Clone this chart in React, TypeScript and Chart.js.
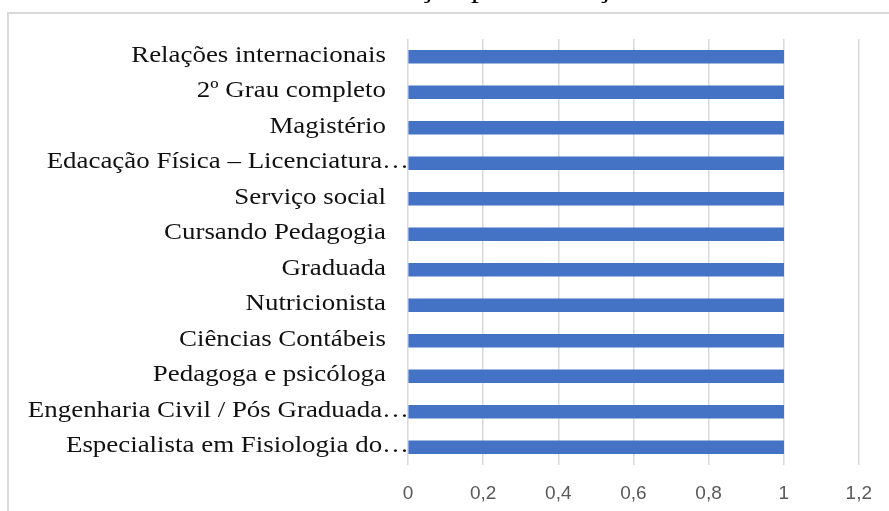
import { useEffect, useRef } from "react";
import { Chart, registerables } from "chart.js";

Chart.register(...registerables);

const title = "Distribuição por formação";
const categories = [
  "Relações internacionais",
  "2º Grau completo",
  "Magistério",
  "Edacação Física – Licenciatura…",
  "Serviço social",
  "Cursando Pedagogia",
  "Graduada",
  "Nutricionista",
  "Ciências Contábeis",
  "Pedagoga e psicóloga",
  "Engenharia Civil / Pós Graduada…",
  "Especialista em Fisiologia do…",
];
const values = [1, 1, 1, 1, 1, 1, 1, 1, 1, 1, 1, 1];
const xTicks = [0, 0.2, 0.4, 0.6, 0.8, 1, 1.2];

const SX = 1.17;

function fmt(v: number) {
  return String(Number(v.toFixed(1))).replace(".", ",");
}

export default function App() {
  const ref = useRef<HTMLCanvasElement | null>(null);

  useEffect(() => {
    document.body.style.margin = "0";
    const canvas = ref.current;
    if (!canvas) return;

    const decor = {
      id: "decor",
      beforeDraw(chart: any) {
        const ctx = chart.ctx;
        ctx.save();
        ctx.fillStyle = "#ffffff";
        ctx.fillRect(0, 0, chart.width, chart.height);
        ctx.strokeStyle = "#d9d9d9";
        ctx.lineWidth = 2;
        ctx.strokeRect(8, 13, 1200, 1200);
        ctx.restore();
      },
      afterDraw(chart: any) {
        const ctx = chart.ctx;
        const y = chart.scales.y;
        ctx.save();
        // title (mostly cropped off above the picture)
        ctx.fillStyle = "#000000";
        ctx.font = "27px 'Liberation Serif', 'Times New Roman', serif";
        ctx.textAlign = "left";
        ctx.textBaseline = "alphabetic";
        ctx.save();
        ctx.translate(307, -3.5);
        ctx.scale(SX, 1);
        ctx.fillText(title, 0, 0);
        ctx.restore();
        // category labels
        ctx.font = "23px 'Liberation Serif', 'Times New Roman', serif";
        ctx.fillStyle = "#111111";
        ctx.textAlign = "right";
        categories.forEach((label, i) => {
          const py = y.getPixelForValue(i);
          const rx = label.endsWith("…") ? 409 : 386;
          ctx.save();
          ctx.translate(rx, py + 5);
          ctx.scale(SX, 1);
          ctx.fillText(label, 0, 0);
          ctx.restore();
        });
        ctx.restore();
      },
    };

    const chart = new Chart(canvas, {
      type: "bar",
      data: {
        labels: categories,
        datasets: [
          {
            data: values,
            backgroundColor: "#4472c4",
            barThickness: 13,
          },
        ],
      },
      options: {
        indexAxis: "y",
        animation: false,
        responsive: false,
        events: [],
        layout: { padding: { top: 39, right: 25, bottom: 0, left: 0 } },
        plugins: {
          legend: { display: false },
          tooltip: { enabled: false },
          title: { display: false },
        },
        scales: {
          x: {
            type: "linear",
            min: 0,
            max: 1.2,
            afterBuildTicks(s: any) {
              s.ticks = xTicks.map((v) => ({ value: v }));
            },
            afterFit(s: any) {
              s.height = 46;
            },
            ticks: {
              padding: 17,
              color: "#595959",
              font: {
                family: "'Liberation Sans Narrow', 'Arial Narrow', 'Liberation Sans', sans-serif",
                size: 19,
              },
              callback: (v: any) => fmt(Number(v)),
            },
            grid: {
              color: "#d9d9d9",
              lineWidth: 1.5,
              drawTicks: false,
            },
            border: { display: false },
          },
          y: {
            type: "category",
            afterFit(s: any) {
              s.width = 408;
            },
            ticks: { display: false },
            grid: { display: false, drawTicks: false },
            border: { display: false },
          },
        },
      },
      plugins: [decor],
    });

    return () => chart.destroy();
  }, []);

  return <canvas ref={ref} width={889} height={511} style={{ display: "block" }} />;
}
